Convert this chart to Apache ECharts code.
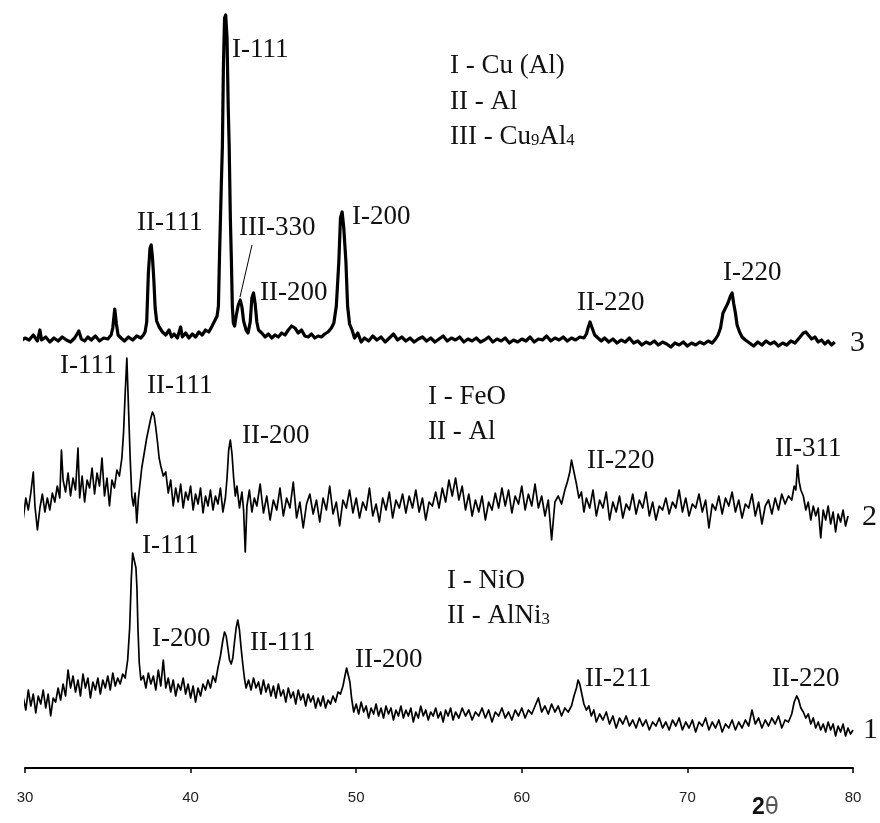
<!DOCTYPE html>
<html>
<head>
<meta charset="utf-8">
<script src="https://cdn.jsdelivr.net/npm/echarts@6.0.0/dist/echarts.min.js"></script>
<style>
  html, body { margin: 0; background: #fff; }
  #chart { width: 880px; height: 823px; }
</style>
</head>
<body>
<div id="chart"></div>
<script>
  // 2θ ticks
  const thetaTicks = [30, 40, 50, 60, 70, 80];

  // sample 3: Cu(Al) / Al / Cu9Al4  ([2θ, intensity])
  const trace3 = [
    [29.1,30],[29.3,26],[29.5,31],[29.75,27],[30,30],[30.25,28],[30.5,33],[30.75,27],[30.9,38],[31,28],[31.25,31],[31.5,26],[31.75,30],[32,27],[32.25,31],[32.5,28],[32.75,26],[33,30],[33.25,37],[33.4,29],[33.6,27],[33.8,31],[34,28],[34.25,32],[34.5,27],[34.75,30],[35,29],[35.2,33],[35.3,40],[35.42,59],[35.52,44],[35.62,33],[35.8,30],[36,27],[36.25,31],[36.5,28],[36.75,32],[37,30],[37.15,33],[37.25,36],[37.35,46],[37.45,95],[37.55,120],[37.62,123],[37.7,110],[37.78,88],[37.86,60],[37.95,47],[38.1,41],[38.3,36],[38.5,33],[38.7,38],[38.85,31],[39,34],[39.2,30],[39.4,41],[39.5,31],[39.7,35],[39.9,30],[40.1,34],[40.3,31],[40.5,36],[40.7,33],[40.9,38],[41.1,36],[41.3,42],[41.45,47],[41.6,52],[41.68,62],[41.75,115],[41.85,180],[41.92,222],[41.98,300],[42.05,350],[42.12,353],[42.2,330],[42.27,262],[42.33,222],[42.4,150],[42.46,110],[42.52,62],[42.58,45],[42.66,42],[42.75,52],[42.88,63],[43,68],[43.1,61],[43.2,47],[43.35,38],[43.47,35],[43.6,46],[43.7,70],[43.8,75],[43.9,64],[44,46],[44.1,38],[44.3,35],[44.5,31],[44.7,34],[44.9,30],[45.1,33],[45.3,31],[45.5,35],[45.7,33],[45.9,38],[46.1,42],[46.3,40],[46.5,35],[46.7,38],[46.9,32],[47.1,31],[47.3,34],[47.5,30],[47.7,32],[47.9,31],[48.1,34],[48.3,36],[48.5,40],[48.65,45],[48.8,62],[48.95,106],[49.05,150],[49.15,156],[49.25,140],[49.38,106],[49.48,62],[49.6,44],[49.75,38],[49.9,30],[50.1,35],[50.3,26],[50.5,30],[50.75,27],[51,32],[51.25,28],[51.5,31],[51.75,26],[52,30],[52.25,34],[52.5,28],[52.75,31],[53,27],[53.25,30],[53.5,26],[53.75,29],[54,31],[54.25,27],[54.5,30],[54.75,26],[55,29],[55.25,32],[55.5,27],[55.75,30],[56,28],[56.25,31],[56.5,26],[56.75,29],[57,27],[57.25,30],[57.5,26],[57.75,28],[58,31],[58.25,26],[58.5,29],[58.75,27],[59,30],[59.25,25],[59.5,28],[59.75,26],[60,29],[60.25,27],[60.5,31],[60.75,26],[61,29],[61.25,28],[61.5,32],[61.75,27],[62,30],[62.25,28],[62.5,31],[62.75,27],[63,30],[63.25,28],[63.5,31],[63.75,30],[63.9,34],[64,40],[64.12,46],[64.25,40],[64.4,33],[64.6,30],[64.8,27],[65,30],[65.25,26],[65.5,29],[65.75,25],[66,28],[66.25,26],[66.5,30],[66.75,25],[67,27],[67.25,23],[67.5,26],[67.75,24],[68,27],[68.25,23],[68.5,26],[68.75,24],[69,21],[69.25,25],[69.5,23],[69.75,26],[70,22],[70.25,25],[70.5,23],[70.75,26],[71,24],[71.25,27],[71.5,25],[71.7,29],[71.85,33],[72,40],[72.15,55],[72.3,60],[72.45,65],[72.6,72],[72.7,75],[72.8,64],[72.9,55],[73,43],[73.15,36],[73.3,31],[73.5,28],[73.75,25],[74,22],[74.25,26],[74.5,23],[74.75,27],[75,24],[75.25,26],[75.5,22],[75.75,25],[76,23],[76.25,27],[76.5,25],[76.75,30],[77,35],[77.15,36],[77.3,33],[77.5,29],[77.7,31],[77.9,26],[78.1,28],[78.3,24],[78.5,27],[78.7,23],[78.9,26]
  ];

  // sample 2: FeO / Al
  const trace2 = [
    [29.3,60],[29.45,72],[29.6,55],[29.75,68],[29.9,50],[30.05,70],[30.2,58],[30.35,75],[30.5,96],[30.6,62],[30.75,38],[30.9,60],[31.05,74],[31.2,56],[31.35,70],[31.5,58],[31.65,75],[31.8,66],[31.95,82],[32.1,70],[32.2,118],[32.3,88],[32.45,76],[32.6,95],[32.75,72],[32.9,90],[33.05,78],[33.2,120],[33.3,70],[33.45,92],[33.6,66],[33.75,88],[33.9,80],[34.05,100],[34.2,74],[34.35,95],[34.5,82],[34.65,110],[34.8,72],[34.95,90],[35.1,62],[35.25,88],[35.4,80],[35.55,98],[35.7,92],[35.85,110],[35.95,135],[36.05,175],[36.15,210],[36.25,160],[36.35,110],[36.45,72],[36.55,62],[36.65,75],[36.75,45],[36.85,70],[36.95,85],[37.05,100],[37.2,115],[37.35,130],[37.5,142],[37.6,150],[37.7,156],[37.8,152],[37.9,140],[38,126],[38.1,110],[38.2,102],[38.35,92],[38.5,96],[38.65,75],[38.8,88],[38.95,62],[39.1,80],[39.25,66],[39.4,84],[39.55,60],[39.7,76],[39.85,68],[40,82],[40.15,58],[40.3,74],[40.45,64],[40.6,80],[40.75,55],[40.9,72],[41.05,62],[41.2,78],[41.35,58],[41.5,72],[41.65,64],[41.8,80],[41.95,56],[42.1,70],[42.2,90],[42.3,118],[42.4,128],[42.5,114],[42.6,90],[42.7,72],[42.8,82],[42.95,60],[43.1,76],[43.2,58],[43.3,16],[43.4,62],[43.55,78],[43.7,56],[43.85,70],[44,62],[44.2,84],[44.4,55],[44.6,72],[44.8,48],[45,68],[45.2,58],[45.4,80],[45.6,52],[45.8,70],[46,60],[46.2,86],[46.4,50],[46.6,66],[46.8,40],[47,64],[47.2,74],[47.4,54],[47.6,68],[47.8,46],[48,70],[48.2,58],[48.4,82],[48.6,54],[48.8,66],[49,42],[49.2,68],[49.4,60],[49.6,78],[49.8,55],[50,70],[50.2,50],[50.4,66],[50.6,58],[50.8,80],[51,52],[51.2,64],[51.4,46],[51.6,70],[51.8,58],[52,76],[52.2,50],[52.4,68],[52.6,60],[52.8,74],[53,55],[53.2,72],[53.4,60],[53.6,78],[53.8,56],[54,70],[54.2,48],[54.4,66],[54.6,62],[54.8,76],[55,60],[55.2,80],[55.4,66],[55.6,88],[55.8,72],[56,90],[56.2,68],[56.4,82],[56.6,58],[56.8,74],[57,52],[57.2,68],[57.4,56],[57.6,72],[57.8,48],[58,66],[58.2,58],[58.4,75],[58.6,60],[58.8,80],[59,62],[59.2,78],[59.4,55],[59.6,72],[59.8,64],[60,82],[60.2,58],[60.4,74],[60.6,62],[60.8,84],[61,60],[61.2,72],[61.4,52],[61.6,68],[61.8,28],[62,66],[62.2,72],[62.4,64],[62.6,78],[62.75,86],[62.9,96],[63,108],[63.1,100],[63.2,92],[63.3,84],[63.45,70],[63.6,76],[63.75,56],[63.9,70],[64.1,60],[64.3,78],[64.5,52],[64.7,68],[64.9,60],[65.1,76],[65.3,48],[65.5,66],[65.7,56],[65.9,72],[66.1,50],[66.3,64],[66.5,58],[66.7,74],[66.9,54],[67.1,68],[67.3,60],[67.5,76],[67.7,52],[67.9,66],[68.1,48],[68.3,62],[68.5,58],[68.7,70],[68.9,54],[69.1,66],[69.3,60],[69.5,78],[69.7,56],[69.9,70],[70.1,52],[70.3,64],[70.5,60],[70.7,74],[70.9,56],[71.1,68],[71.3,40],[71.5,64],[71.7,58],[71.9,72],[72.1,54],[72.3,70],[72.5,62],[72.7,76],[72.9,56],[73.1,68],[73.3,50],[73.5,64],[73.7,60],[73.9,74],[74.1,52],[74.3,66],[74.5,44],[74.7,62],[74.9,68],[75.1,54],[75.3,70],[75.5,58],[75.7,74],[75.9,64],[76.1,72],[76.3,68],[76.45,82],[76.55,78],[76.65,103],[76.75,86],[76.85,78],[77,72],[77.15,58],[77.3,66],[77.45,48],[77.6,62],[77.75,52],[77.9,60],[78.05,30],[78.2,58],[78.35,48],[78.5,62],[78.65,44],[78.8,56],[78.95,36],[79.1,54],[79.25,46],[79.4,58],[79.55,42],[79.7,52]
  ];

  // sample 1: NiO / AlNi3
  const trace1 = [
    [29.9,70],[30.05,58],[30.2,78],[30.35,62],[30.5,74],[30.65,55],[30.8,72],[30.95,64],[31.1,78],[31.25,60],[31.4,74],[31.55,52],[31.7,70],[31.85,66],[32,80],[32.15,68],[32.3,84],[32.45,72],[32.6,98],[32.75,80],[32.9,92],[33.05,76],[33.2,88],[33.35,72],[33.5,94],[33.65,80],[33.8,90],[33.95,70],[34.1,86],[34.25,78],[34.4,90],[34.55,74],[34.7,88],[34.85,80],[35,92],[35.15,78],[35.3,95],[35.45,82],[35.6,90],[35.75,84],[35.9,94],[36.05,90],[36.2,108],[36.32,140],[36.42,190],[36.5,215],[36.6,215],[36.7,200],[36.76,180],[36.82,140],[36.9,105],[37,88],[37.15,92],[37.3,80],[37.45,95],[37.6,84],[37.75,92],[37.9,78],[38.05,98],[38.2,82],[38.35,108],[38.5,80],[38.65,90],[38.8,76],[38.95,88],[39.1,72],[39.25,84],[39.4,78],[39.55,90],[39.7,74],[39.85,84],[40,70],[40.15,82],[40.3,66],[40.45,80],[40.6,72],[40.75,84],[40.9,78],[41.05,88],[41.2,80],[41.35,92],[41.5,86],[41.65,100],[41.8,112],[41.95,128],[42.05,136],[42.15,132],[42.25,120],[42.35,108],[42.45,104],[42.55,110],[42.65,126],[42.75,140],[42.85,148],[42.95,138],[43.05,120],[43.15,104],[43.25,90],[43.35,80],[43.5,88],[43.65,78],[43.8,90],[43.95,80],[44.1,86],[44.25,74],[44.4,88],[44.55,76],[44.7,84],[44.85,72],[45,82],[45.15,70],[45.3,84],[45.45,72],[45.6,78],[45.75,66],[45.9,80],[46.05,70],[46.2,76],[46.35,64],[46.5,78],[46.65,68],[46.8,74],[46.95,62],[47.1,74],[47.25,66],[47.4,72],[47.55,60],[47.7,70],[47.85,62],[48,72],[48.15,60],[48.3,68],[48.45,64],[48.6,72],[48.75,66],[48.9,76],[49.05,74],[49.2,82],[49.32,92],[49.42,100],[49.52,98],[49.62,86],[49.72,70],[49.85,56],[50,64],[50.15,54],[50.3,66],[50.45,56],[50.6,62],[50.75,50],[50.9,60],[51.05,54],[51.2,64],[51.35,52],[51.5,60],[51.65,50],[51.8,62],[51.95,54],[52.1,60],[52.25,48],[52.4,58],[52.55,52],[52.7,62],[52.85,50],[53,58],[53.15,52],[53.3,60],[53.45,46],[53.6,56],[53.75,50],[53.9,62],[54.05,52],[54.2,58],[54.35,48],[54.5,56],[54.65,52],[54.8,60],[54.95,50],[55.1,56],[55.25,46],[55.4,58],[55.55,52],[55.7,60],[55.85,48],[56,56],[56.2,50],[56.4,60],[56.6,52],[56.8,58],[57,48],[57.2,56],[57.4,52],[57.6,60],[57.8,50],[58,58],[58.2,46],[58.4,56],[58.6,52],[58.8,60],[59,50],[59.2,56],[59.4,48],[59.6,58],[59.8,52],[60,60],[60.2,50],[60.4,58],[60.6,54],[60.8,62],[61,70],[61.2,56],[61.4,62],[61.6,54],[61.8,64],[62,56],[62.2,62],[62.4,52],[62.6,60],[62.8,56],[63,62],[63.15,72],[63.3,80],[63.4,88],[63.5,84],[63.6,76],[63.75,64],[63.9,58],[64.05,62],[64.2,52],[64.35,58],[64.5,46],[64.7,54],[64.9,48],[65.1,56],[65.3,44],[65.5,52],[65.7,40],[65.9,50],[66.1,44],[66.3,52],[66.5,42],[66.7,48],[66.9,40],[67.1,50],[67.3,42],[67.5,48],[67.7,38],[67.9,46],[68.1,42],[68.3,50],[68.5,40],[68.7,46],[68.9,38],[69.1,48],[69.3,42],[69.5,50],[69.7,38],[69.9,46],[70.1,40],[70.3,48],[70.5,36],[70.7,46],[70.9,42],[71.1,50],[71.3,38],[71.5,46],[71.7,40],[71.9,48],[72.1,36],[72.3,44],[72.5,40],[72.7,48],[72.9,38],[73.1,46],[73.3,40],[73.5,48],[73.7,42],[73.9,58],[74.1,44],[74.3,50],[74.5,40],[74.7,48],[74.9,42],[75.1,50],[75.3,44],[75.5,52],[75.7,40],[75.9,48],[76.1,46],[76.3,54],[76.45,66],[76.6,72],[76.72,68],[76.85,60],[77,56],[77.15,50],[77.3,54],[77.45,44],[77.6,50],[77.75,40],[77.9,46],[78.05,38],[78.2,44],[78.35,36],[78.5,46],[78.65,38],[78.8,44],[78.95,32],[79.1,42],[79.25,36],[79.4,44],[79.55,32],[79.7,40],[79.85,34],[80,38]
  ];

  // peak labels: [text, left px, middle px]
  const peakLabels = [
    ['I-111', 232, 50], ['II-111', 137, 223], ['III-330', 239, 228], ['II-200', 260, 293],
    ['I-200', 352, 217], ['II-220', 577, 303], ['I-220', 723, 273],
    ['I-111', 60, 366], ['II-111', 147, 386], ['II-200', 242, 436], ['II-220', 587, 461], ['II-311', 775, 449],
    ['I-111', 142, 546], ['I-200', 152, 639], ['II-111', 250, 643], ['II-200', 355, 660],
    ['II-211', 585, 679], ['II-220', 772, 679]
  ];
  const phaseNotes = [
    ['I - Cu (Al)', 450, 66], ['II - Al', 450, 102], ['III - Cu{s|9}Al{s|4}', 450, 137],
    ['I - FeO', 428, 397], ['II - Al', 428, 432],
    ['I - NiO', 447, 581], ['II - AlNi{s|3}', 447, 616]
  ];
  const sampleNums = [['3', 850, 343], ['2', 862, 517], ['1', 863, 730]];

  const chart = echarts.init(document.getElementById('chart'));
  const serif = '"Liberation Serif", "Times New Roman", serif';

  function shifted(trace, offset) {
    return trace.map(p => [p[0], p[1] + offset]);
  }
  function lineSeries(trace, offset, width) {
    return {
      type: 'line',
      data: shifted(trace, offset),
      showSymbol: false,
      clip: false,
      silent: true,
      lineStyle: { color: '#000', width: width, join: 'round' }
    };
  }
  function textEl(t, x, y, size) {
    return {
      type: 'text',
      style: {
        text: t, x: x, y: y, fill: '#111',
        fontFamily: serif, fontSize: size,
        verticalAlign: 'middle',
        rich: { s: { fontFamily: serif, fontSize: size * 0.62, fill: '#111', padding: [8, 0, 0, 0] } }
      }
    };
  }

  const graphics = [];
  peakLabels.forEach(l => graphics.push(textEl(l[0], l[1], l[2], 27)));
  phaseNotes.forEach(l => graphics.push(textEl(l[0], l[1], l[2], 27)));
  sampleNums.forEach(l => graphics.push(textEl(l[0], l[1], l[2], 30)));
  // III-330 leader
  graphics.push({ type: 'line', shape: { x1: 252, y1: 245, x2: 240, y2: 297 }, style: { stroke: '#000', lineWidth: 1 } });
  graphics.push({
    type: 'text',
    style: {
      text: '{b|2}θ', x: 752, y: 808, verticalAlign: 'middle',
      fontFamily: 'DejaVu Sans', fontSize: 23, fill: '#555',
      rich: { b: { fontFamily: 'Liberation Sans', fontWeight: 'bold', fontSize: 23, fill: '#111' } }
    }
  });

  const option = {
    animation: false,
    backgroundColor: '#fff',
    grid: { left: 25, right: 27, top: 0, bottom: 55 },
    xAxis: {
      type: 'value',
      min: thetaTicks[0],
      max: thetaTicks[thetaTicks.length - 1],
      interval: 10,
      axisLine: { show: true, lineStyle: { color: '#000', width: 2 } },
      axisTick: { show: true, length: 5, lineStyle: { color: '#000', width: 1.5 } },
      axisLabel: { color: '#222', fontFamily: 'Liberation Sans', fontSize: 15, margin: 22 },
      splitLine: { show: false }
    },
    yAxis: { type: 'value', min: 0, max: 768, show: false },
    series: [
      lineSeries(trace3, 400, 3.2),
      lineSeries(trace2, 200, 1.7),
      lineSeries(trace1, 0, 1.7)
    ],
    graphic: graphics
  };
  chart.setOption(option);
</script>
</body>
</html>
